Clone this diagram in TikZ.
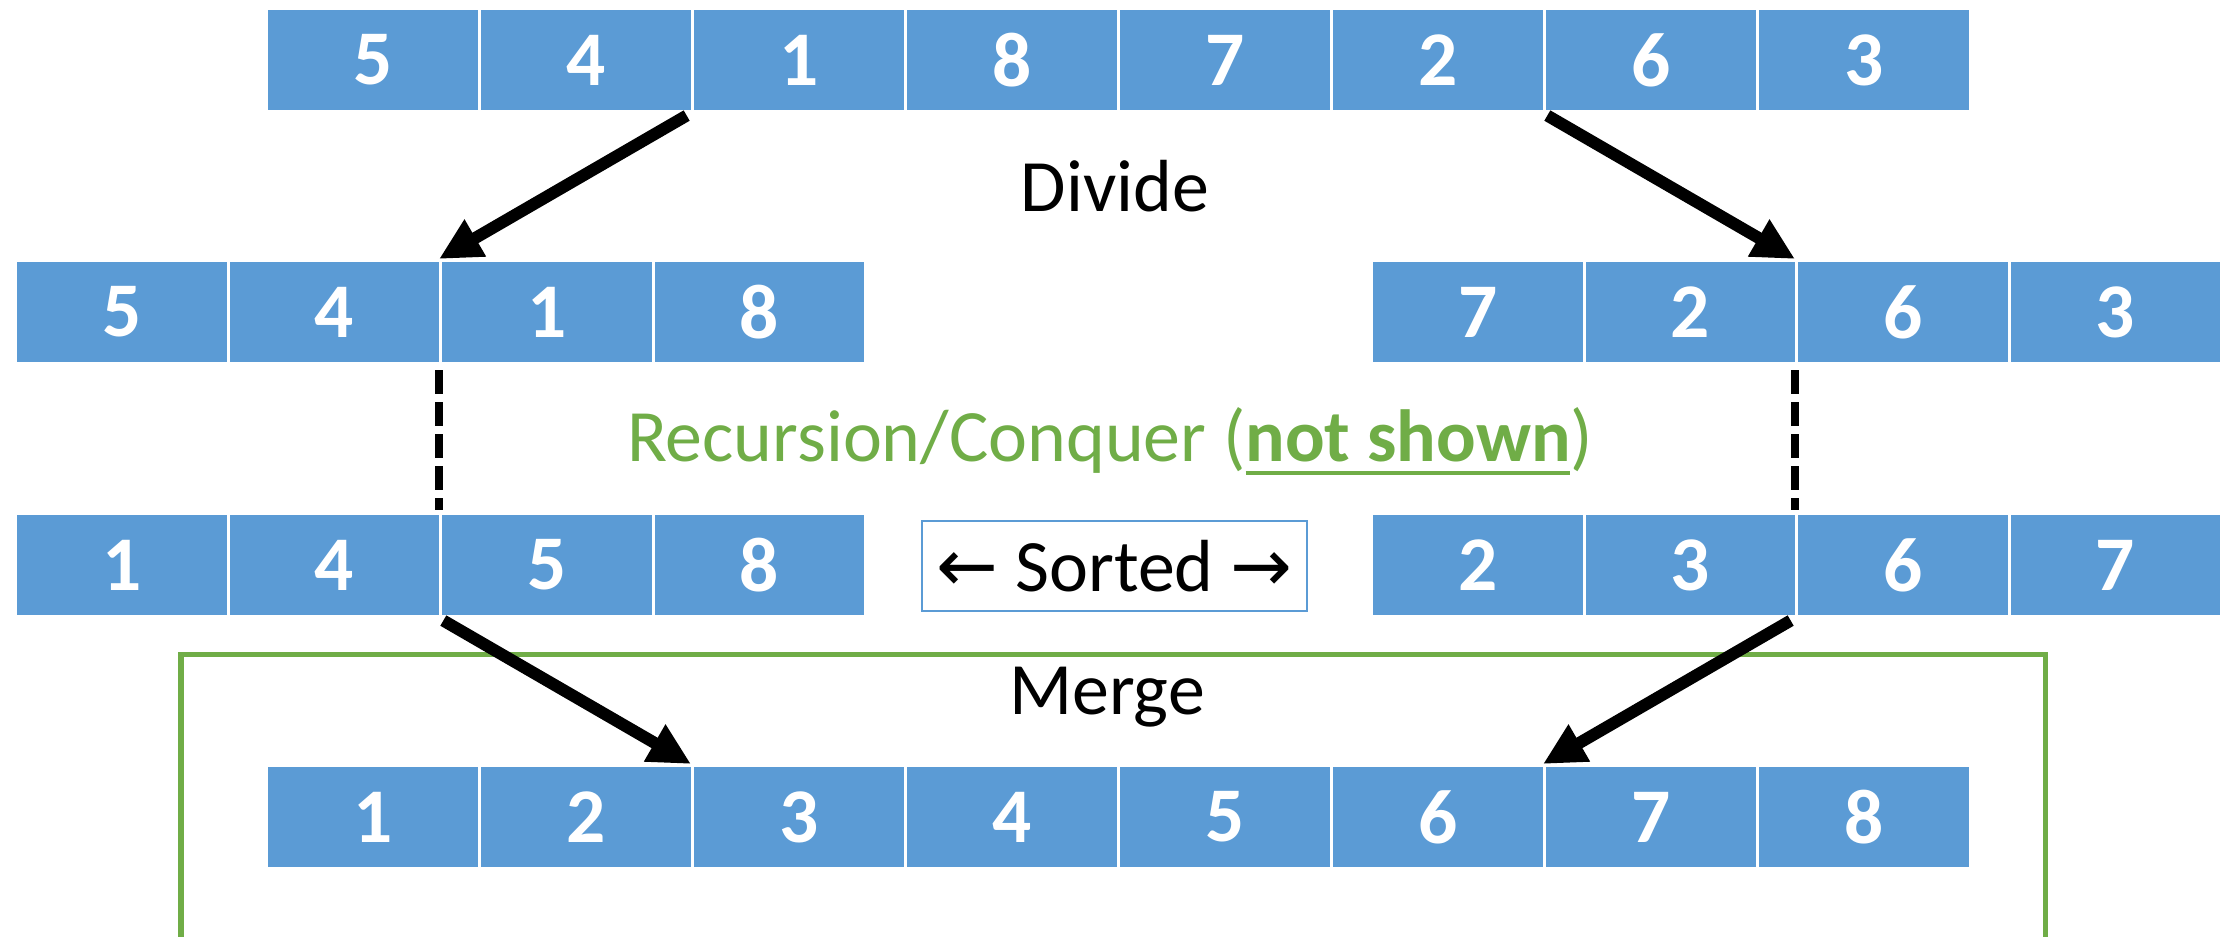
\documentclass[tikz,border=0pt]{standalone}
\usepackage{fontspec}
\setmainfont{Carlito}
\newfontfamily\symfont{DejaVu Sans}
\usetikzlibrary{arrows.meta}
\definecolor{cellblue}{HTML}{5B9BD5}
\definecolor{mergegreen}{HTML}{70AD47}
% bold text with a thick underline placed below the baseline
\newcommand\thickul[1]{\setbox0\hbox{#1}\rlap{\rule[-0.13cm]{\wd0}{0.04cm}}\box0}

\begin{document}
\begin{tikzpicture}[x=0.01cm,y=-0.01cm,
  cell/.style={rectangle, fill=cellblue, draw=white, line width=0.03cm,
    minimum width=2.13cm, minimum height=1.03cm, inner sep=0pt,
    anchor=north west, text=white, font=\fontsize{22}{24}\selectfont\bfseries},
  halfcell/.style={cell, minimum width=2.125cm},
  lbl/.style={inner sep=0pt, anchor=base, font=\fontsize{21}{25}\selectfont},
  bigarrow/.style={line width=0.12cm, shorten <=0.05cm,
    -{Triangle[length=0.42cm, width=0.4cm]}},
  dashline/.style={line width=0.08cm, dash pattern=on 0.24cm off 0.08cm,
    shorten <=0.05cm, shorten >=0.02cm}]
\useasboundingbox (0,0) rectangle (2226,937);

% frame around the merge step
\coordinate (gbox-nw) at (181,655);
\coordinate (gbox-se) at (2045,940);
\draw[mergegreen, line width=0.05cm] (gbox-nw) rectangle (gbox-se);

% input array
\foreach \v [count=\i] in {5,4,1,8,7,2,6,3}
  \node[cell] (a\i) at ({265+(\i-1)*213},7) {\v};
% divided halves
\foreach \v [count=\i] in {5,4,1,8}
  \node[halfcell] (bL\i) at ({14+(\i-1)*212.5},259) {\v};
\foreach \v [count=\i] in {7,2,6,3}
  \node[halfcell] (bR\i) at ({1370+(\i-1)*212.5},259) {\v};
% sorted halves
\foreach \v [count=\i] in {1,4,5,8}
  \node[halfcell] (cL\i) at ({14+(\i-1)*212.5},512) {\v};
\foreach \v [count=\i] in {2,3,6,7}
  \node[halfcell] (cR\i) at ({1370+(\i-1)*212.5},512) {\v};
% merged array
\foreach \v [count=\i] in {1,2,3,4,5,6,7,8}
  \node[cell] (d\i) at ({265+(\i-1)*213},764) {\v};

% labels
\node[lbl] (divide) at (1115,212) {Divide};
\node[lbl] (merge) at (1107,715) {Merge};
\node[lbl, text=mergegreen] (recur) at (1110,462)
  {Recursion/Conquer (\thickul{\bfseries not shown})};
\node[draw=cellblue, line width=0.025cm, minimum width=3.85cm,
  minimum height=0.9cm, inner sep=0pt, font=\fontsize{21}{25}\selectfont]
  (sorted) at (1114.5,566) {{\symfont ←} Sorted {\symfont →}};

% connectors
\draw[bigarrow] (a3.south west) -- (bL3.north west);
\draw[bigarrow] (a7.south west) -- (bR3.north west);
\draw[dashline] (bL3.south west) -- (cL3.north west);
\draw[dashline] (bR3.south west) -- (cR3.north west);
\draw[bigarrow] (cL3.south west) -- (d3.north west);
\draw[bigarrow] (cR3.south west) -- (d7.north west);
\end{tikzpicture}
\end{document}
